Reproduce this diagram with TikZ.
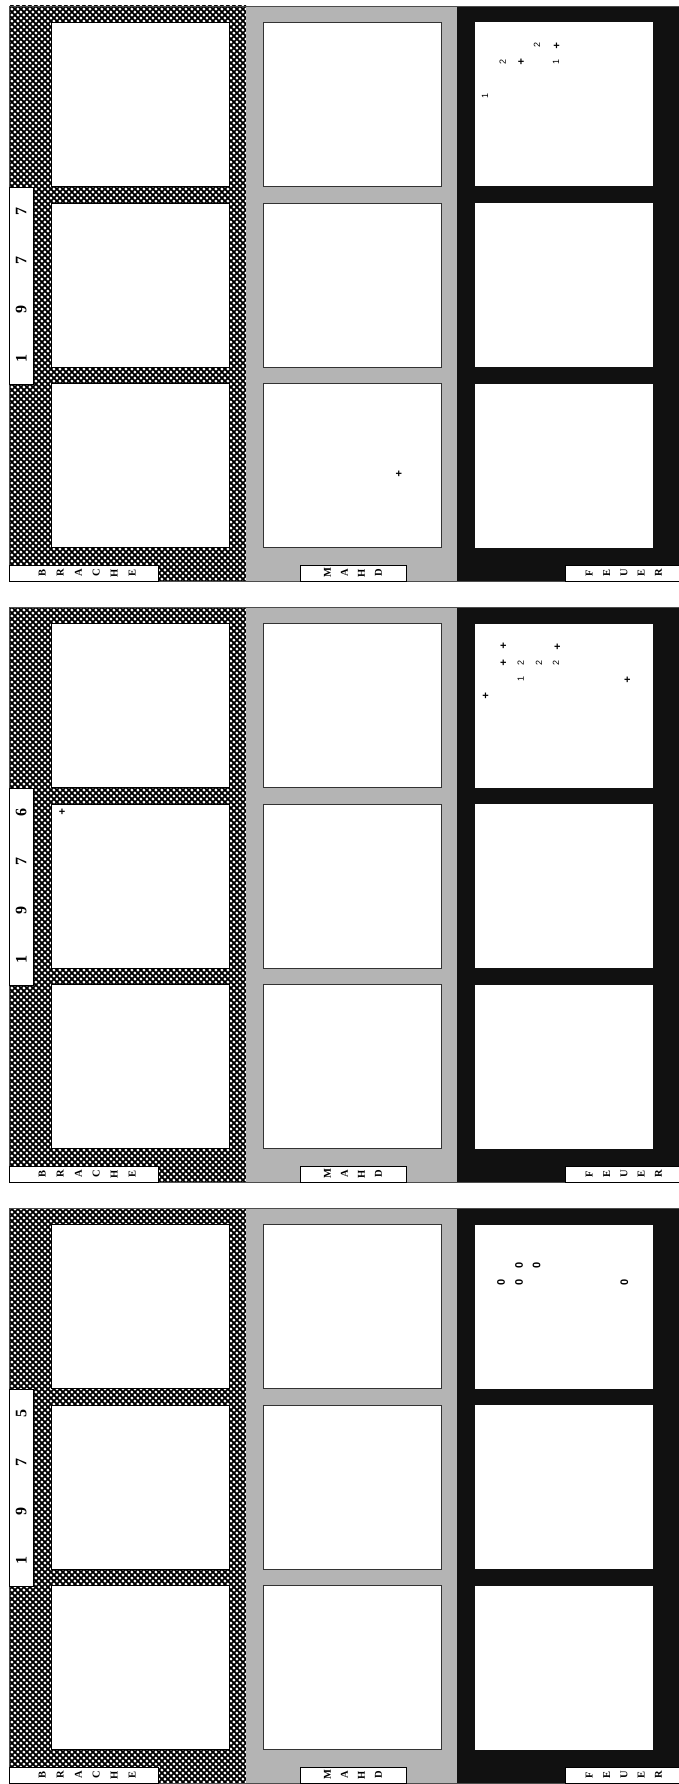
\documentclass[tikz,border=0pt]{standalone}
\usepackage{fontspec}
\setmainfont{Liberation Serif}
\newfontfamily\marksf{Liberation Sans}
\usetikzlibrary{patterns}

% diagonal black lattice leaving white four-pointed holes
\pgfdeclarepatternformonly{brachepat}{\pgfpointorigin}{\pgfpoint{6.4pt}{6.4pt}}{\pgfpoint{6.4pt}{6.4pt}}{%
  \pgfsetlinewidth{1.9pt}%
  \pgfpathmoveto{\pgfpointorigin}\pgfpathlineto{\pgfpoint{6.4pt}{6.4pt}}%
  \pgfpathmoveto{\pgfpoint{0pt}{6.4pt}}\pgfpathlineto{\pgfpoint{6.4pt}{0pt}}%
  \pgfusepath{stroke}%
  \pgfpathcircle{\pgfpointorigin}{1.55pt}%
  \pgfpathcircle{\pgfpoint{6.4pt}{0pt}}{1.55pt}%
  \pgfpathcircle{\pgfpoint{0pt}{6.4pt}}{1.55pt}%
  \pgfpathcircle{\pgfpoint{6.4pt}{6.4pt}}{1.55pt}%
  \pgfpathcircle{\pgfpoint{3.2pt}{3.2pt}}{1.55pt}%
  \pgfusepath{fill}%
}

\definecolor{mahdgray}{RGB}{180,180,180}
\definecolor{feuerblack}{RGB}{17,17,17}

\tikzset{
  boxB/.style={draw=black,line width=0.7pt,fill=white,inner sep=0pt,outer sep=0pt,minimum width=178pt,minimum height=164pt},
  boxM/.style={draw=black!80,line width=0.8pt,fill=white,inner sep=0pt,outer sep=0pt,minimum width=178pt,minimum height=164pt},
  boxF/.style={draw=none,fill=white,inner sep=0pt,outer sep=0pt,minimum width=178pt,minimum height=164pt},
  lab/.style={draw=black,line width=0.6pt,fill=white,inner sep=0pt,outer sep=0pt,minimum height=16pt},
  lt/.style={font=\bfseries\fontsize{10.5}{10.5}\selectfont,rotate=90,inner sep=0pt},
  yd/.style={font=\bfseries\fontsize{16}{16}\selectfont,rotate=90,inner sep=0pt},
  mk/.style={font=\marksf\fontsize{9}{9}\selectfont,rotate=90,inner sep=0pt},
  pl/.style={font=\marksf\bfseries\fontsize{11}{11}\selectfont,inner sep=0pt},
  zr/.style={font=\marksf\bfseries\fontsize{11}{11}\selectfont,rotate=90,inner sep=0pt},
}

\newcommand{\drawpanel}[6]{%
\begin{scope}[shift={(0,#2)}]
  \fill[white] (9.5,0) rectangle (246,575);
  \fill[pattern=brachepat,pattern color=black] (9.5,0) rectangle (246,575);
  \fill[mahdgray] (246,0) rectangle (457,575);
  \fill[feuerblack] (457,0) rectangle (679,575);
  \draw[line width=0.6pt,black!70] (9.5,0) rectangle (679,575);
  \foreach \cy [count=\i] in {98.5,279,459.5}{
    \node[boxB] (#1-b\i) at (140,\cy) {};
    \node[boxM] (#1-m\i) at (352.4,\cy) {};
    \node[boxF] (#1-f\i) at (564.4,\cy) {};
  }
  \node[lab,minimum width=148.5pt] (#1-lb) at (83.75,567) {};
  \foreach \ch/\xx [count=\i] in {B/42.3,R/60.3,A/78.3,C/96.3,H/114.3,E/132.3}
    \node[lt] (#1-lb\i) at (\xx,567) {\ch};
  \node[lab,minimum width=106pt] (#1-lm) at (353,567) {};
  \foreach \ch/\xx [count=\i] in {M/327.5,A/344.5,H/361.5,D/378.5}
    \node[lt] (#1-lm\i) at (\xx,567) {\ch};
  \node[lab,minimum width=113.3pt] (#1-lf) at (622.35,567) {};
  \foreach \ch/\xx [count=\i] in {F/589.3,E/606.6,U/623.9,E/641.2,R/658.5}
    \node[lt] (#1-lf\i) at (\xx,567) {\ch};
  \node[lab,minimum width=23.5pt,minimum height=197.6pt] (#1-yr) at (21.25,279.8) {};
  \foreach \d/\yy [count=\i] in {#3/352,#4/303.5,#5/254.5,#6/205.5}
    \node[yd] (#1-y\i) at (21.25,\yy) {\d};
\end{scope}}

\begin{document}
\begin{tikzpicture}[x=1pt,y=-1pt]
  \useasboundingbox (0,0) rectangle (679,1784);
  \fill[white] (0,0) rectangle (679,1784);

  \drawpanel{pa}{6}{1}{9}{7}{7}
  \drawpanel{pb}{607}{1}{9}{7}{6}
  \drawpanel{pc}{1208}{1}{9}{7}{5}

  % 1977 marks
  \node[mk] (a1) at (537,45) {2};
  \node[pl] (a2) at (556.7,46) {+};
  \node[mk] (a3) at (502.7,61.7) {2};
  \node[pl] (a4) at (521,62) {+};
  \node[mk] (a5) at (556,62) {1};
  \node[mk] (a6) at (485,95.7) {1};
  \node[pl] (a7) at (398.8,474.3) {+};

  % 1976 marks
  \node[pl] (b1) at (503.3,646.7) {+};
  \node[pl] (b2) at (557.3,647.3) {+};
  \node[pl] (b3) at (503.3,663.3) {+};
  \node[mk] (b4) at (520.7,663.3) {2};
  \node[mk] (b5) at (539,663.3) {2};
  \node[mk] (b6) at (556,663.3) {2};
  \node[mk] (b7) at (520.7,679.3) {1};
  \node[pl] (b8) at (627.3,680) {+};
  \node[pl] (b9) at (485.7,696.7) {+};
  \node[pl] (b10) at (62,811.9) {+};

  % 1975 marks
  \node[zr] (c1) at (519,1265.7) {0};
  \node[zr] (c2) at (536.7,1265.7) {0};
  \node[zr] (c3) at (501,1282.3) {0};
  \node[zr] (c4) at (519,1282.3) {0};
  \node[zr] (c5) at (624.3,1282.3) {0};
\end{tikzpicture}
\end{document}
